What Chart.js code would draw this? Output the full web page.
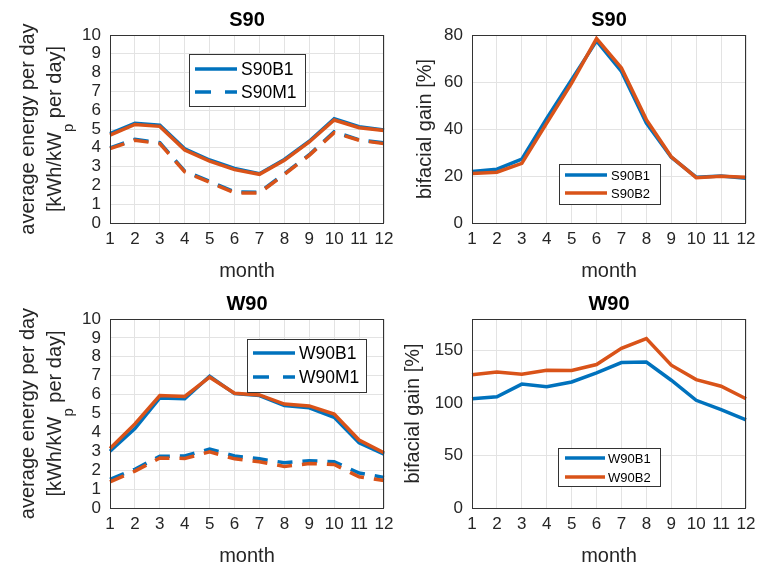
<!DOCTYPE html>
<html><head><meta charset="utf-8">
<script src="https://cdn.jsdelivr.net/npm/chart.js@4.4.1/dist/chart.umd.min.js"></script>
<style>
html,body{margin:0;padding:0;background:#fff;}
body{width:767px;height:566px;overflow:hidden;position:relative;}
canvas{position:absolute;left:0;top:0;}
</style></head><body>
<canvas id="c1" width="767" height="566"></canvas>
<canvas id="c2" width="767" height="566"></canvas>
<canvas id="c3" width="767" height="566"></canvas>
<canvas id="c4" width="767" height="566"></canvas>
<script>
// ---------- data ----------
const months = ['1','2','3','4','5','6','7','8','9','10','11','12'];

// S90 average energy per day [kWh/kWp per day]
const s90B1 = [4.75, 5.30, 5.20, 3.95, 3.35, 2.90, 2.62, 3.38, 4.35, 5.55, 5.12, 4.95];
const s90M1 = [4.00, 4.45, 4.27, 2.76, 2.22, 1.65, 1.63, 2.62, 3.63, 4.85, 4.43, 4.26];
const s90B2 = [4.68, 5.24, 5.14, 3.88, 3.29, 2.84, 2.59, 3.33, 4.31, 5.48, 5.07, 4.92];
const s90M2 = [3.96, 4.40, 4.22, 2.72, 2.17, 1.60, 1.60, 2.58, 3.60, 4.80, 4.40, 4.22];

// S90 bifacial gain [%]
const s90GainB1 = [21.9, 22.9, 27.2, 44.5, 61.0, 77.5, 64.5, 42.5, 28.0, 19.5, 20.0, 19.0];
const s90GainB2 = [21.1, 21.6, 25.4, 42.5, 59.5, 78.5, 66.0, 44.0, 28.2, 19.3, 19.9, 19.5];

// W90 average energy per day [kWh/kWp per day]
const w90B1 = [3.00, 4.20, 5.82, 5.78, 6.97, 6.05, 5.95, 5.42, 5.30, 4.80, 3.45, 2.85];
const w90M1 = [1.52, 2.05, 2.74, 2.75, 3.12, 2.75, 2.60, 2.40, 2.50, 2.45, 1.85, 1.62];
const w90B2 = [3.15, 4.45, 5.95, 5.90, 6.92, 6.07, 5.98, 5.50, 5.40, 4.97, 3.60, 2.92];
const w90M2 = [1.38, 1.95, 2.65, 2.62, 2.97, 2.60, 2.45, 2.20, 2.35, 2.30, 1.65, 1.45];

// W90 bifacial gain [%]
const w90GainB1 = [104.0, 106.0, 118.0, 115.5, 120.0, 128.7, 138.5, 139.0, 121.7, 102.6, 93.7, 84.0];
const w90GainB2 = [127.0, 129.6, 127.4, 131.2, 131.0, 136.6, 152.0, 161.4, 136.0, 122.3, 116.0, 104.0];

// tick labels
const energyTicks = [0,1,2,3,4,5,6,7,8,9,10];
const s90GainTicks = [0,20,40,60,80];
const w90GainTicks = [0,50,100,150];

// ---------- style ----------
const BLUE = '#0072BD', RED = '#D95319';
const FONT = '"Liberation Sans", Arial, Helvetica, sans-serif';
const TXT = '#262626';
const GRID = '#e3e3e3';
const DASH = [15, 10];

const deco = {
  id: 'deco',
  afterDraw(chart, args, o) {
    const ctx = chart.ctx, a = chart.chartArea;
    ctx.save();
    // frame
    ctx.strokeStyle = '#333';
    ctx.lineWidth = 1;
    ctx.setLineDash([]);
    ctx.strokeRect(Math.round(a.left) + 0.5, Math.round(a.top) + 0.5,
                   Math.round(a.right - a.left) - 1, Math.round(a.bottom - a.top));
    const cx = (a.left + a.right) / 2, cy = (a.top + a.bottom) / 2;
    // title
    ctx.fillStyle = '#000';
    ctx.font = 'bold 20px ' + FONT;
    ctx.textAlign = 'center';
    ctx.textBaseline = 'middle';
    ctx.fillText(o.title, cx, a.top - 15);
    // x label
    ctx.fillStyle = TXT;
    ctx.font = '20px ' + FONT;
    ctx.fillText('month', cx, a.bottom + 48);
    // y label
    ctx.save();
    if (o.energy) {
      ctx.translate(a.left - 82, cy);
      ctx.rotate(-Math.PI / 2);
      ctx.textAlign = 'center';
      ctx.fillText('average energy per day', 0, 0);
      ctx.restore();
      ctx.save();
      ctx.translate(a.left - 55, cy);
      ctx.rotate(-Math.PI / 2);
      ctx.textAlign = 'left';
      const p1 = '[kWh/kW', p2 = ' per day]';
      ctx.font = '20px ' + FONT;
      const w1 = ctx.measureText(p1).width, w3 = ctx.measureText(p2).width;
      ctx.font = '15px ' + FONT;
      const w2 = ctx.measureText('p').width;
      let x = -(w1 + w2 + w3) / 2;
      ctx.font = '20px ' + FONT;
      ctx.fillText(p1, x, 0);
      x += w1;
      ctx.font = '15px ' + FONT;
      ctx.fillText('p', x, 14);
      x += w2;
      ctx.font = '20px ' + FONT;
      ctx.fillText(p2, x, 0);
    } else {
      ctx.translate(a.left - o.ylabDx, cy);
      ctx.rotate(-Math.PI / 2);
      ctx.textAlign = 'center';
      ctx.fillText('bifacial gain [%]', 0, 0);
    }
    ctx.restore();
    // legend
    const L = o.legend;
    ctx.fillStyle = '#fff';
    ctx.fillRect(L.x, L.y, L.w, L.h);
    ctx.strokeStyle = '#333';
    ctx.lineWidth = 1;
    ctx.strokeRect(L.x + 0.5, L.y + 0.5, L.w, L.h);
    L.items.forEach((it, i) => {
      const yy = L.rows[i];
      ctx.strokeStyle = it.color;
      ctx.lineWidth = 3.5;
      ctx.setLineDash(it.dash ? [16, 14] : []);
      ctx.beginPath();
      ctx.moveTo(L.lx0, yy);
      ctx.lineTo(L.lx1, yy);
      ctx.stroke();
      ctx.setLineDash([]);
      ctx.fillStyle = '#000';
      ctx.font = L.font + 'px ' + FONT;
      ctx.textAlign = 'left';
      ctx.textBaseline = 'middle';
      ctx.fillText(it.label, L.tx, yy + 1);
    });
    ctx.restore();
  }
};

function ds(label, data, color, dashed, order) {
  return {
    label, data, borderColor: color, backgroundColor: color,
    borderWidth: 3.5, borderDash: dashed ? DASH : [],
    pointRadius: 0, tension: 0, fill: false, order,
    borderCapStyle: 'butt', borderJoinStyle: 'miter'
  };
}

function makeChart(id, area, datasets, yMin, yMax, yTicks, decoOpts) {
  const W = 767, H = 566, YW = 40, XH = 30;
  return new Chart(document.getElementById(id), {
    type: 'line',
    data: { labels: months, datasets },
    options: {
      responsive: false, animation: false, devicePixelRatio: 1,
      events: [],
      layout: { padding: { left: area.l - YW, right: W - area.r, top: area.t, bottom: H - area.b - XH } },
      plugins: { legend: { display: false }, tooltip: { enabled: false }, title: { display: false }, deco: decoOpts },
      scales: {
        x: {
          type: 'category', offset: false,
          grid: { color: GRID, lineWidth: 1, drawTicks: false },
          border: { display: false },
          ticks: { color: TXT, font: { family: FONT, size: 17 }, padding: 6, autoSkip: false, maxRotation: 0 },
          afterFit(s) { s.height = XH; }
        },
        y: {
          min: yMin, max: yMax,
          grid: { color: GRID, lineWidth: 1, drawTicks: false },
          border: { display: false },
          ticks: { color: TXT, font: { family: FONT, size: 17 }, padding: 9, autoSkip: false },
          afterBuildTicks(s) { s.ticks = yTicks.map(v => ({ value: v })); },
          afterFit(s) { s.width = YW; }
        }
      }
    },
    plugins: [deco]
  });
}

makeChart('c1', { l: 110, r: 384, t: 35, b: 223 }, [
  ds('S90B2', s90B2, RED, false, 0),
  ds('S90M2', s90M2, RED, true, 0),
  ds('S90B1', s90B1, BLUE, false, 1),
  ds('S90M1', s90M1, BLUE, true, 1)
], 0, 10, energyTicks, {
  title: 'S90', energy: true,
  legend: { x: 189, y: 54, w: 116, h: 52, lx0: 195, lx1: 237, tx: 241, rows: [69, 92], font: 17.5,
    items: [{ label: 'S90B1', color: BLUE }, { label: 'S90M1', color: BLUE, dash: true }] }
});

makeChart('c2', { l: 472, r: 746, t: 35, b: 223 }, [
  ds('S90B2', s90GainB2, RED, false, 0),
  ds('S90B1', s90GainB1, BLUE, false, 1)
], 0, 80, s90GainTicks, {
  title: 'S90', energy: false, ylabDx: 47,
  legend: { x: 559, y: 164, w: 101, h: 40, lx0: 565, lx1: 607, tx: 611, rows: [175, 193], font: 13,
    items: [{ label: 'S90B1', color: BLUE }, { label: 'S90B2', color: RED }] }
});

makeChart('c3', { l: 110, r: 384, t: 319, b: 508 }, [
  ds('W90B2', w90B2, RED, false, 0),
  ds('W90M2', w90M2, RED, true, 0),
  ds('W90B1', w90B1, BLUE, false, 1),
  ds('W90M1', w90M1, BLUE, true, 1)
], 0, 10, energyTicks, {
  title: 'W90', energy: true,
  legend: { x: 247, y: 339, w: 119, h: 53, lx0: 253, lx1: 295, tx: 299, rows: [353, 377], font: 17.5,
    items: [{ label: 'W90B1', color: BLUE }, { label: 'W90M1', color: BLUE, dash: true }] }
});

makeChart('c4', { l: 472, r: 746, t: 319, b: 508 }, [
  ds('W90B2', w90GainB2, RED, false, 0),
  ds('W90B1', w90GainB1, BLUE, false, 1)
], 0, 180, w90GainTicks, {
  title: 'W90', energy: false, ylabDx: 59,
  legend: { x: 558, y: 448, w: 102, h: 38, lx0: 565, lx1: 605, tx: 608, rows: [458, 477], font: 13,
    items: [{ label: 'W90B1', color: BLUE }, { label: 'W90B2', color: RED }] }
});
</script>
</body></html>
